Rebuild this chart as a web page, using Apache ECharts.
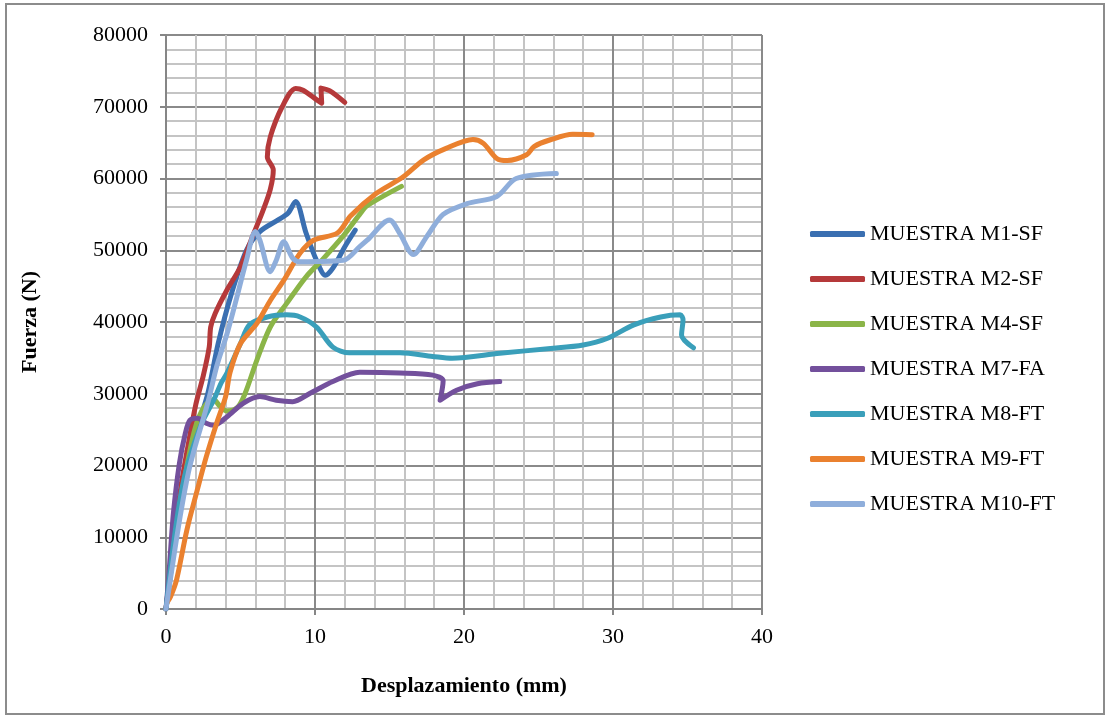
<!DOCTYPE html>
<html>
<head>
<meta charset="utf-8">
<script src="https://cdn.jsdelivr.net/npm/echarts@6/dist/echarts.min.js"></script>
<style>
  html, body { margin: 0; padding: 0; background: #fff; }
  #main { width: 1112px; height: 723px; }
</style>
</head>
<body>
<div id="main"></div>
<script>
// Desplazamiento (mm), Fuerza (N)
var seriesNames = ['MUESTRA M1-SF', 'MUESTRA M2-SF', 'MUESTRA M4-SF', 'MUESTRA M7-FA',
                   'MUESTRA M8-FT', 'MUESTRA M9-FT', 'MUESTRA M10-FT'];
var seriesColors = ['#3a6fb1', '#b5393a', '#8bb548', '#73509c', '#3a9fba', '#ea812f', '#8faedb'];

var m1 = [[0,0],[0.5,8000],[1,15000],[1.5,20000],[2,24500],[2.8,30000],[3.5,37000],[4.4,44000],
          [5.4,50000],[6.3,52600],[7.5,54200],[8.2,55200],[8.7,56800],[9.4,52400],[10.1,48600],
          [10.7,46500],[11.2,47500],[12.0,50500],[12.7,52800]];
var m2 = [[0,0],[0.5,9000],[1,17000],[1.5,23000],[2,28500],[2.5,32500],[2.9,36500],[3.0,39300],
          [3.3,41200],[4.1,44500],[5.0,47700],[5.9,52400],[6.5,55500],[7.0,58500],[7.2,61200],
          [6.8,63000],[7.0,65800],[7.8,70000],[8.7,72550],[9.2,72300],[10.1,71000],[10.45,70500],
          [10.4,72600],[11.0,72200],[12.0,70600]];
var m4 = [[0,0],[0.5,8000],[1,15000],[1.5,21000],[2,25500],[2.6,28300],[3.2,29200],[3.6,28300],
          [4.1,27600],[4.8,28100],[5.3,30000],[6.1,34700],[7.0,39300],[8.1,42600],[9.4,46300],
          [10.5,48700],[11.9,52000],[13.0,55000],[13.5,56200],[15.8,58900]];
var m7 = [[0,0],[0.2,5000],[0.5,13400],[0.9,20300],[1.3,24500],[1.6,26300],[2.1,26600],[2.7,25900],
          [3.2,25600],[4.1,26800],[5.2,28700],[6.3,29600],[7.4,29100],[8.5,28900],[9.7,30100],
          [11.2,31700],[13.0,33000],[15.7,32900],[17.9,32600],[18.6,31800],[18.4,29100],
          [19.5,30500],[20.9,31400],[22.4,31700]];
var m8 = [[0,0],[0.5,9000],[1,16000],[1.5,20500],[2.4,25900],[3.2,29100],[3.7,31500],[4.1,32900],
          [5.0,37000],[5.6,39600],[6.8,40700],[8.1,41000],[9.0,40700],[10.1,39300],[11.2,36500],
          [12.3,35700],[15.7,35700],[17.9,35200],[19.2,34950],[22.4,35650],[25.8,36300],
          [28.0,36800],[29.6,37700],[31.4,39600],[33.2,40700],[34.5,41000],[34.7,40300],
          [34.6,38200],[35.4,36400]];
var m9 = [[0.1,1000],[0.3,1700],[0.7,4000],[1.4,11000],[2.1,16600],[2.7,21200],[3.4,25900],
          [4.0,29600],[4.3,33000],[5.0,37000],[6.1,39800],[7.0,43000],[7.9,45800],[9.0,49600],
          [9.9,51400],[11.5,52400],[12.4,54800],[14.1,57900],[15.9,60200],[17.3,62600],
          [18.8,64200],[20.6,65450],[21.3,64900],[22.2,62800],[22.9,62500],[24.2,63300],
          [24.7,64450],[25.8,65400],[27.3,66150],[28.6,66100]];
var m10 = [[0,0],[0.5,7000],[1,13500],[1.5,19000],[2,23000],[2.5,26500],[2.9,29500],[3.4,33800],
           [4.1,38400],[4.7,43000],[5.4,48600],[6.0,52600],[6.3,51400],[7.0,47000],[7.4,48600],
           [7.9,51200],[8.5,48900],[9.0,48400],[11.9,48600],[13.0,50500],[13.5,51400],
           [15.0,54200],[15.7,52300],[16.6,49400],[17.5,51900],[18.6,55000],[20.2,56500],
           [22.2,57500],[23.5,60000],[26.2,60700]];
var allData = [m1, m2, m4, m7, m8, m9, m10];

var myChart = echarts.init(document.getElementById('main'));
var serif = '"Liberation Serif", "DejaVu Serif", serif';

var series = allData.map(function (d, i) {
    return {
        name: seriesNames[i],
        type: 'line',
        data: d,
        symbol: 'none',
        smooth: 0.3,
        color: seriesColors[i],
        lineStyle: { width: 5, color: seriesColors[i], cap: 'round', join: 'round' },
        animation: false
    };
});

var option = {
    animation: false,
    graphic: [{
        type: 'rect',
        shape: { x: 6, y: 4, width: 1098, height: 710 },
        style: { fill: 'none', stroke: '#8c8c8c', lineWidth: 2 },
        silent: true
    }],
    grid: { left: 166, right: 350, top: 35, bottom: 114 },
    legend: {
        orient: 'vertical',
        left: 805,
        top: 218,
        itemWidth: 55,
        itemHeight: 6,
        itemGap: 23,
        icon: 'roundRect',
        textStyle: { fontFamily: serif, fontSize: 22, color: '#000' },
        data: seriesNames
    },
    xAxis: {
        type: 'value',
        min: 0,
        max: 40,
        interval: 10,
        name: 'Desplazamiento (mm)',
        nameLocation: 'middle',
        nameGap: 66,
        nameTextStyle: { fontFamily: serif, fontSize: 22, fontWeight: 'bold', color: '#000' },
        axisLine: { show: true, lineStyle: { color: '#868686', width: 2 } },
        axisTick: { show: true, length: 6, lineStyle: { color: '#868686', width: 2 } },
        axisLabel: { fontFamily: serif, fontSize: 22, color: '#000', margin: 17,
                     formatter: function (v) { return String(v); } },
        splitLine: { show: true, lineStyle: { color: '#8a8a8a', width: 2 } },
        minorTick: { show: false, splitNumber: 5 },
        minorSplitLine: { show: true, lineStyle: { color: '#c4c4c4', width: 2 } }
    },
    yAxis: {
        type: 'value',
        min: 0,
        max: 80000,
        interval: 10000,
        name: 'Fuerza (N)',
        nameLocation: 'middle',
        nameGap: 125,
        nameTextStyle: { fontFamily: serif, fontSize: 22, fontWeight: 'bold', color: '#000' },
        axisLine: { show: true, lineStyle: { color: '#868686', width: 2 } },
        axisTick: { show: true, length: 6, lineStyle: { color: '#868686', width: 2 } },
        axisLabel: { fontFamily: serif, fontSize: 22, color: '#000', margin: 18,
                     formatter: function (v) { return String(v); } },
        splitLine: { show: true, lineStyle: { color: '#8a8a8a', width: 2 } },
        minorTick: { show: false, splitNumber: 5 },
        minorSplitLine: { show: true, lineStyle: { color: '#c4c4c4', width: 2 } }
    },
    series: series
};
myChart.setOption(option);
</script>
</body>
</html>
